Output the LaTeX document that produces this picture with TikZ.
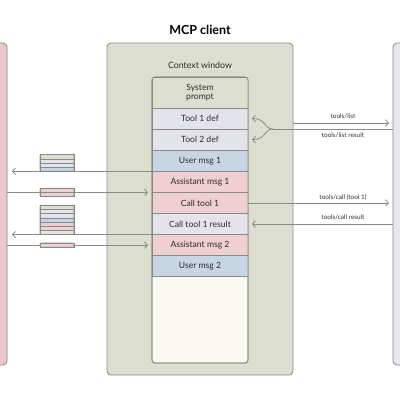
\documentclass[tikz,border=0pt]{standalone}
\usepackage{fontspec}
\setmainfont{Lato}
\usetikzlibrary{arrows.meta,positioning,calc}
\definecolor{sage}{HTML}{DCDFD0}
\definecolor{colbg}{HTML}{FAF9F4}
\definecolor{lav}{HTML}{E3E3EC}
\definecolor{ublue}{HTML}{C6D6E5}
\definecolor{apink}{HTML}{EFCFD1}
\definecolor{lpink}{HTML}{EBC8C9}
\definecolor{rlav}{HTML}{E8E7F0}
\definecolor{ln}{HTML}{8A8A84}
\definecolor{txt}{HTML}{2E2E2E}
\tikzset{
  frame/.style={draw=ln, line width=0.8pt, inner sep=0pt, outer sep=0pt},
  row/.style={draw=ln, line width=0.8pt, inner sep=0pt, outer sep=0pt,
    minimum width=96pt, minimum height=21.1pt, text=txt,
    font=\fontsize{8.6}{10}\selectfont, align=center},
  arr/.style={draw=ln, line width=0.8pt, -{Straight Barb[length=3pt,width=6.5pt]}},
  plain/.style={draw=ln, line width=0.8pt},
  lbl/.style={text=txt, font=\fontsize{6.4}{8}\selectfont, inner sep=0pt},
  stripe/.style={draw=ln, line width=0.4pt},
  stackout/.style={draw=ln, line width=0.7pt, rounded corners=1pt}
}
\begin{document}
\begin{tikzpicture}[x=1pt,y=-1pt]
\useasboundingbox (0,0) rectangle (400,400);
% hosts
\node[frame, fill=lpink, rounded corners=4pt, minimum width=27pt, minimum height=322pt] (lhost) at (-6.5,204) {};
\node[frame, fill=rlav, rounded corners=4pt, minimum width=27pt, minimum height=322pt] (rhost) at (406.5,204) {};
% MCP client
\node[frame, fill=sage, rounded corners=4pt, minimum width=186pt, minimum height=332pt] (mcp) at (200,209) {};
\node[text=black, font=\fontsize{12.5}{15}\selectfont\bfseries] (title) at (200,30) {MCP client};
\node[text=txt, font=\fontsize{8.8}{10}\selectfont] (ctx) at (200,65) {Context window};
% context column
\node[frame, fill=colbg, rounded corners=3pt, minimum width=96pt, minimum height=286pt] (col) at (200,220) {};
\begin{scope}
\clip[rounded corners=3pt] (152,77) rectangle (248,363);
\node[row, fill=sage, minimum height=31pt, anchor=north] (sys) at (200,77) {System\\[-1pt]prompt};
\node[row, fill=lav, below=0pt of sys] (t1) {Tool 1 def};
\node[row, fill=lav, below=0pt of t1] (t2) {Tool 2 def};
\node[row, fill=ublue, below=0pt of t2] (u1) {User msg 1};
\node[row, fill=apink, below=0pt of u1] (a1) {Assistant msg 1};
\node[row, fill=apink, below=0pt of a1] (call) {Call tool 1};
\node[row, fill=lav, below=0pt of call] (res) {Call tool 1 result};
\node[row, fill=apink, below=0pt of res] (a2) {Assistant msg 2};
\node[row, fill=ublue, below=0pt of a2] (u2) {User msg 2};
\end{scope}
\draw[draw=ln, line width=0.8pt, rounded corners=3pt] (152,77) rectangle (248,363);
% left side arrows
\draw[arr, shorten >=5pt] (u1.south west) -- (u1.south west -| lhost.east);
\draw[arr, shorten >=4pt] (a1.south west -| lhost.east) -- (a1.south west);
\draw[arr, shorten >=5pt] (res.south west) -- (res.south west -| lhost.east);
\draw[arr, shorten >=4pt] (a2.west -| lhost.east) -- (a2.west);
% stacks
\foreach \c [count=\i] in {sage,lav,lav,ublue}
  \draw[stripe, fill=\c] (40,{154.5+(\i-1)*4.2}) rectangle +(34,4.2);
\draw[stackout] (40,154.5) rectangle (74,171.3);
\foreach \c [count=\i] in {apink,apink}
  \draw[stripe, fill=\c] (40,{188.2+(\i-1)*4.2}) rectangle +(34,4.2);
\draw[stackout] (40,188.2) rectangle (74,196.6);
\foreach \c [count=\i] in {sage,lav,lav,ublue,apink,apink,lav}
  \draw[stripe, fill=\c] (40,{205.2+(\i-1)*4.2}) rectangle +(34,4.2);
\draw[stackout] (40,205.2) rectangle (74,234.6);
\draw[stripe, fill=apink] (40,243) rectangle (74,247.2);
\draw[stackout] (40,243) rectangle (74,247.2);
% right side
\coordinate (tl) at (mcp.east |- 0,123);
\draw[arr, shorten >=4pt] (tl) -- (tl -| rhost.west) node[lbl, midway, above=4pt] {tools/list};
\coordinate (jn) at (273,129);
\draw[plain] (jn -| rhost.west) -- (jn);
\node[lbl] (tlr) at (343,135.5) {tools/list result};
\draw[arr] (jn) .. controls (264,129) and (266,118.5) .. ([xshift=4pt]t1.east);
\draw[arr] (jn) .. controls (264,129) and (266,139.6) .. ([xshift=4pt]t2.east);
\draw[arr, shorten >=4pt] (call.east) -- (call.east -| rhost.west);
\node[lbl] (tc) at (343,197) {tools/call (tool 1)};
\draw[arr, shorten >=4pt] (res.east -| rhost.west) -- (res.east);
\node[lbl] (tcr) at (343,217.5) {tools/call result};
\end{tikzpicture}
\end{document}
